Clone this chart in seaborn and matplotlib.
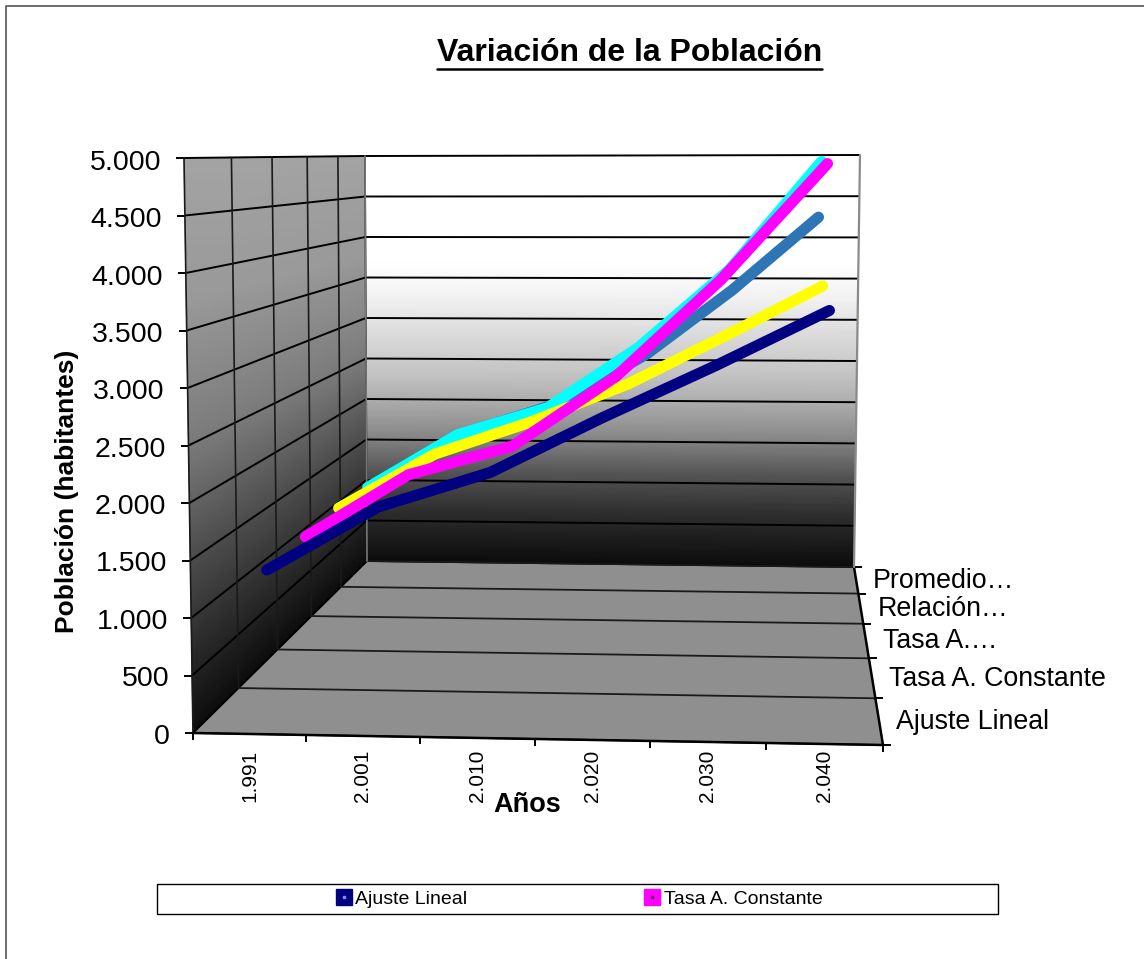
import numpy as np
import pandas as pd
import matplotlib
matplotlib.use('Agg')
import matplotlib.pyplot as plt
from matplotlib.lines import Line2D
from matplotlib.patches import Polygon, Rectangle
from matplotlib.legend_handler import HandlerTuple
import seaborn as sns

# data
years = ['1.991', '2.001', '2.010', '2.020', '2.030', '2.040']
series_names = ['Ajuste Lineal', 'Tasa A. Constante', 'Tasa A.…', 'Relación…', 'Promedio…']
ajuste_lineal = [1270, 1850, 2170, 2670, 3140, 3635]
tasa_constante = [1290, 1905, 2190, 2875, 3815, 4930]
tasa_a = [1310, 1885, 2230, 2630, 3135, 3655]
relacion = [1280, 1880, 2190, 2865, 3735, 4935]
promedio = [1200, 1740, 2070, 2650, 3410, 4270]
y_ticks = list(range(0, 5001, 500))
y_tick_labels = ['0', '500', '1.000', '1.500', '2.000', '2.500', '3.000', '3.500', '4.000', '4.500', '5.000']

colors = ['#000080', '#FF00FF', '#FFFF00', '#00FFFF', '#2E75B6']


# the excel 3d box, corners in image pixels
def homography(corners):
    src = [(0, 0), (1, 0), (1, 1), (0, 1)]
    A, b = [], []
    for (u, v), (px, py) in zip(src, corners):
        A.append([u, v, 1, 0, 0, 0, -u * px, -v * px])
        A.append([0, 0, 0, u, v, 1, -u * py, -v * py])
        b += [px, py]
    return np.append(np.linalg.solve(np.array(A, float), np.array(b, float)), 1).reshape(3, 3)


H_floor = homography([(193, 733), (883, 745), (854, 567), (367, 561)])
H_top = homography([(184, 158), (894, 157), (860, 155), (365, 156)])


def apply_h(H, x, z):
    x, z = np.asarray(x, float), np.asarray(z, float)
    w = H[2, 0] * x + H[2, 1] * z + H[2, 2]
    return (H[0, 0] * x + H[0, 1] * z + H[0, 2]) / w, (H[1, 0] * x + H[1, 1] * z + H[1, 2]) / w


def project(x, z, v):
    fx, fy = apply_h(H_floor, x, z)
    tx, ty = apply_h(H_top, x, z)
    h = np.asarray(v, float) / 5000
    return fx + (tx - fx) * h, fy + (ty - fy) * h


n_cat = len(years)
n_ser = len(series_names)

rows = []
for k, (name, vals) in enumerate(zip(series_names, [ajuste_lineal, tasa_constante, tasa_a, relacion, promedio])):
    z = (k + 0.5) / n_ser
    for i, val in enumerate(vals):
        # categories sit evenly across the band
        xf = 0.497 + ((i + 0.5) / n_cat - 0.5) * 1.005
        lx0, ly0 = project(0, z, val)
        rx0, ry0 = project(1, z, val)
        rows.append({'serie': name, 'anio': years[i],
                     'px': float(lx0 + xf * (rx0 - lx0)), 'py': float(ly0 + xf * (ry0 - ly0))})
df = pd.DataFrame(rows)

sns.set_theme(style='white')
plt.rcParams['font.family'] = ['Liberation Sans', 'DejaVu Sans']

fig = plt.figure(figsize=(11.44, 9.59), dpi=100)
ax = fig.add_axes([0, 0, 1, 1])

# walls
steps = np.linspace(0, 1, 60)
back_h = [0, 0.124, 0.22, 0.32, 0.4, 0.46, 0.67, 0.74, 1]
back_g = [0.05, 0.18, 0.33, 0.55, 0.68, 0.76, 0.96, 1, 1]
xx, hh = np.meshgrid([0, 1], steps)
bx, by = project(xx, np.ones_like(xx), hh * 5000)
ax.pcolormesh(bx, by, np.interp(hh, back_h, back_g), shading='gouraud', cmap='gray', vmin=0, vmax=1, zorder=1)

left_h = [0, 0.3, 0.5, 0.75, 1]
left_g = [0.05, 0.3, 0.48, 0.6, 0.64]
zz, hh = np.meshgrid([0, 1], steps)
lx, ly = project(np.zeros_like(zz), zz, hh * 5000)
ax.pcolormesh(lx, ly, np.interp(hh, left_h, left_g), shading='gouraud', cmap='gray', vmin=0, vmax=1, zorder=1)

fc = [project(a, b, 0) for a, b in [(0, 0), (1, 0), (1, 1), (0, 1)]]
ax.add_patch(Polygon(np.array(fc, float), closed=True, fc='#8f8f8f', ec='none', zorder=1))

# gridlines
grid = dict(color='black', lw=1.4, zorder=2, solid_capstyle='butt')
for v in y_ticks:
    p = [project(0, 0, v), project(0, 1, v), project(1, 1, v)]
    ax.plot([q[0] for q in p], [q[1] for q in p], **grid)
    q0 = project(0, 0, v)
    ax.plot([q0[0] - 8, q0[0]], [q0[1], q0[1]], **grid)
    ax.text(q0[0] - 23, q0[1] + 4.5 - v / 5000 * 1.5 + 1.5 * v / 5000 * 2 - 1, y_tick_labels[y_ticks.index(v)],
            ha='right', va='center', fontsize=20.5, color='black')

for k in range(n_ser + 1):
    z = k / n_ser
    a, b = project(0, z, 0), project(0, z, 5000)
    ax.plot([a[0], b[0]], [a[1], b[1]], color='#1a1a1a', lw=1.2, zorder=2)
    c = project(1, z, 0)
    ax.plot([a[0], c[0]], [a[1], c[1]], color='#1a1a1a', lw=1.3, zorder=2)
    ax.plot([c[0], c[0] + 8], [c[1], c[1]], **grid)

for i in range(n_cat + 1):
    a = project(i / n_cat, 0, 0)
    ax.plot([a[0], a[0]], [a[1], a[1] + 7], **grid)

# box edges
a, b, c, d = [project(*q, 0) for q in [(0, 0), (1, 0), (1, 1), (0, 1)]]
ax.plot([a[0], b[0]], [a[1], b[1]], color='black', lw=1.8, zorder=2)
ax.plot([b[0], c[0]], [b[1], c[1]], color='black', lw=1.8, zorder=2)
e = project(1, 1, 5000)
ax.plot([c[0], e[0]], [c[1], e[1]], color='#8a8a8a', lw=1.6, zorder=2)
f = project(0, 1, 5000)
ax.plot([d[0], f[0]], [d[1], f[1]], color='#777777', lw=1.2, zorder=2)

# series, back to front
palette = dict(zip(series_names, colors))
sns.lineplot(data=df, x='px', y='py', hue='serie', hue_order=series_names[::-1], palette=palette,
             estimator=None, sort=False, linewidth=8, solid_capstyle='round', legend=False, ax=ax, zorder=3)

# category labels
for i, lab in enumerate(years):
    q = project((i + 0.5) / n_cat, 0, 0)
    ax.text(q[0], 750, lab, rotation=90, ha='center', va='top', fontsize=15, color='black')
for k, lab in enumerate(series_names):
    q = project(1, (k + 0.5) / n_ser, 0)
    ax.text(q[0] + 17, q[1] + 1, lab, ha='left', va='center', fontsize=19.3, color='black')

ax.text(629.5, 53, 'Variación de la Población', ha='center', va='center', fontsize=23, fontweight='bold', color='black')
ax.plot([437, 822], [69, 69], color='black', lw=1.8)
ax.text(67, 491, 'Población (habitantes)', rotation=90, ha='center', va='center', fontsize=19, fontweight='bold', color='black')
ax.text(527, 805, 'Años', ha='center', va='center', fontsize=19.5, fontweight='bold', color='black')

# legend box
ax.add_patch(Rectangle((156.5, 883.5), 841, 30, fc='white', ec='black', lw=1.0, zorder=1))
handles = []
for col, dot in zip(colors[:2], ['#8888ff', '#660066']):
    sq = Line2D([], [], ls='none', marker='s', ms=11, color=col)
    pt = Line2D([], [], ls='none', marker='s', ms=1.5, color=dot)
    handles.append((sq, pt))
ax.legend(handles, series_names[:2], handler_map={tuple: HandlerTuple(ndivide=1, pad=0)}, ncol=2, frameon=False,
          loc='center', bbox_to_anchor=(579, 899), bbox_transform=ax.transData, fontsize=14, labelcolor='black',
          columnspacing=9.1, handlelength=0.85, handletextpad=0.15, borderpad=0, borderaxespad=0)

# outer frame, only top and left are in the picture
ax.plot([6, 6, 1144], [959, 6, 6], color='#555555', lw=1.2, zorder=0)

ax.set_xlim(0, 1144)
ax.set_ylim(959, 0)
ax.axis('off')

fig.savefig('out.png', dpi=100)
